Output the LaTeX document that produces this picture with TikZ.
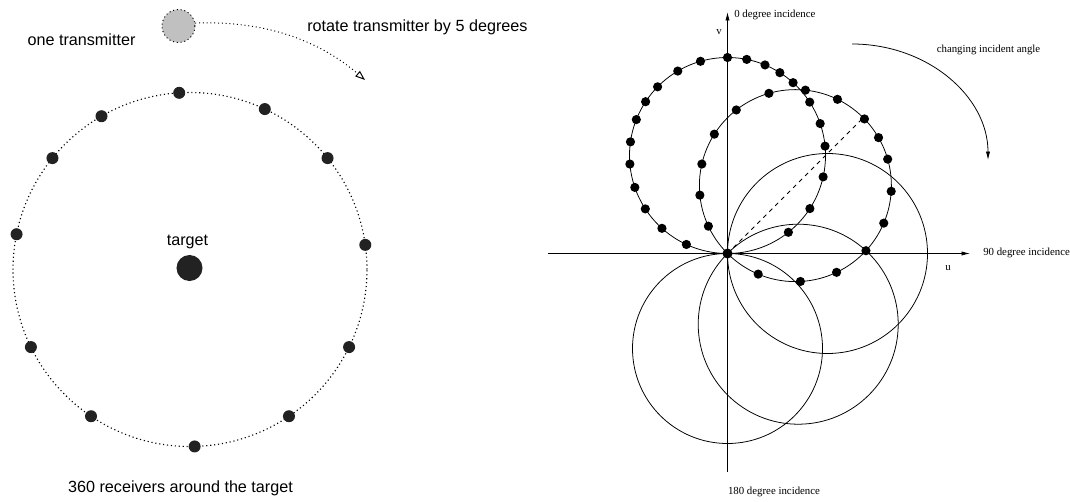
\documentclass[tikz,border=0pt]{standalone}
\usepackage{fontspec}
\setmainfont{Liberation Serif}
\newfontfamily\labelsans{Liberation Sans}
\usepackage{tikz}
\usetikzlibrary{arrows.meta}
\definecolor{dotgray}{HTML}{222222}
\definecolor{txgray}{HTML}{C0C0C0}

\begin{document}
\begin{tikzpicture}[x=0.025cm,y=0.025cm,
	sanslabel/.style={font=\labelsans\fontsize{11.5}{13}\selectfont,inner sep=0pt},
	seriflabel/.style={font=\fontsize{7.7}{9}\selectfont,inner sep=0pt},
	transmitter/.style={circle,draw,dotted,line width=0.7pt,fill=txgray,minimum size=0.825cm,inner sep=0pt},
	targetdot/.style={circle,fill=dotgray,minimum size=0.65cm,inner sep=0pt},
	ewald/.style={line width=0.55pt},
	axisline/.style={line width=0.55pt,-{Latex[length=6pt,width=3pt]}}]
	\useasboundingbox (0,0) rectangle (1070,501);
	
	% Left: receivers round the target
	\coordinate (ring) at (190,231.5);
	\draw[dotted,line width=0.8pt] (ring) circle (177);
	\foreach \a in {8,39,65,93.5,120,141,168.5,206,236,271.5,304,334} {
		\fill[dotgray] (ring) ++(\a:177) circle (6);
	}
	\node[targetdot] (target) at (189.5,233) {};
	\node[sanslabel] (targetlabel) at (187.5,259) {target};
	\node[sanslabel] (ringlabel) at (180.5,13) {360 receivers around the target};
	
	% Transmitter and its rotation
	\node[transmitter] (tx) at (178.5,475) {};
	\node[sanslabel] (txlabel) at (81.5,461) {one transmitter};
	\node[sanslabel,anchor=west] (rotlabel) at (307,474) {rotate transmitter by 5 degrees};
	\coordinate (rotend) at (365,421);
	\draw[dotted,line width=0.7pt,-{Triangle[open,length=7pt,width=5pt]}] (tx.10) .. controls (280,481) and (330,451) .. (rotend);
	
	% Right: axes
	\coordinate (O) at (727.5,247.5);
	\coordinate (uleft) at (548,247.5);
	\coordinate (uright) at (970,247.5);
	\coordinate (vbottom) at (727.5,29);
	\coordinate (vtop) at (727.5,489);
	\draw[axisline] (uleft) -- (uright);
	\draw[axisline] (vbottom) -- (vtop);
	\node[seriflabel] (ulabel) at (948,233) {u};
	\node[seriflabel] (vlabel) at (719,469) {v};
	\node[seriflabel,anchor=west] (zero) at (734,486) {0 degree incidence};
	\node[seriflabel,anchor=west] (ninety) at (983,248) {90 degree incidence};
	\node[seriflabel] (oneeighty) at (774,9.5) {180 degree incidence};
	
	% Circles through the origin
	\draw[ewald] (O) ++(0,98) circle (98);
	\draw[ewald] (O) ++(45:96) circle (96);
	\draw[ewald] (O) ++(100,0) circle (100);
	\draw[ewald] (O) ++(-45:100) circle (100);
	\draw[ewald] (O) ++(0,-95) circle (95);
	
	% Measured points
	\foreach \a in {90,78.7,67.5,57.7,48,33,19,5.5,-12.6,-32.8,-51.6,-114.8,-132,-147,-161,-175,172,158.5,146.7,135.5,120.5,106} {
		\fill (O) ++(0,98) ++(\a:98) circle (4.6);
	}
	\foreach \a in {106,84,64,44,30,16,-3.4,-23,-42.7,-64.6,-87,-112.8,205,185.7,167,147.6,128} {
		\fill (O) ++(45:96) ++(\a:96) circle (4.6);
	}
	\fill (O) circle (5);
	
	% Incidence direction
	\path (O) ++(45:190) coordinate (far);
	\draw[dashed,line width=0.55pt] (O) -- (far);
	
	% Changing angle
	\coordinate (turnstart) at (852,457);
	\coordinate (turnend) at (988,341);
	\draw[line width=0.55pt,-{Latex[length=6pt,width=3pt]}] (turnstart) .. controls (927,457) and (988,405) .. (turnend);
	\node[seriflabel] (turnlabel) at (988.5,451) {changing incident angle};
\end{tikzpicture}
\end{document}
